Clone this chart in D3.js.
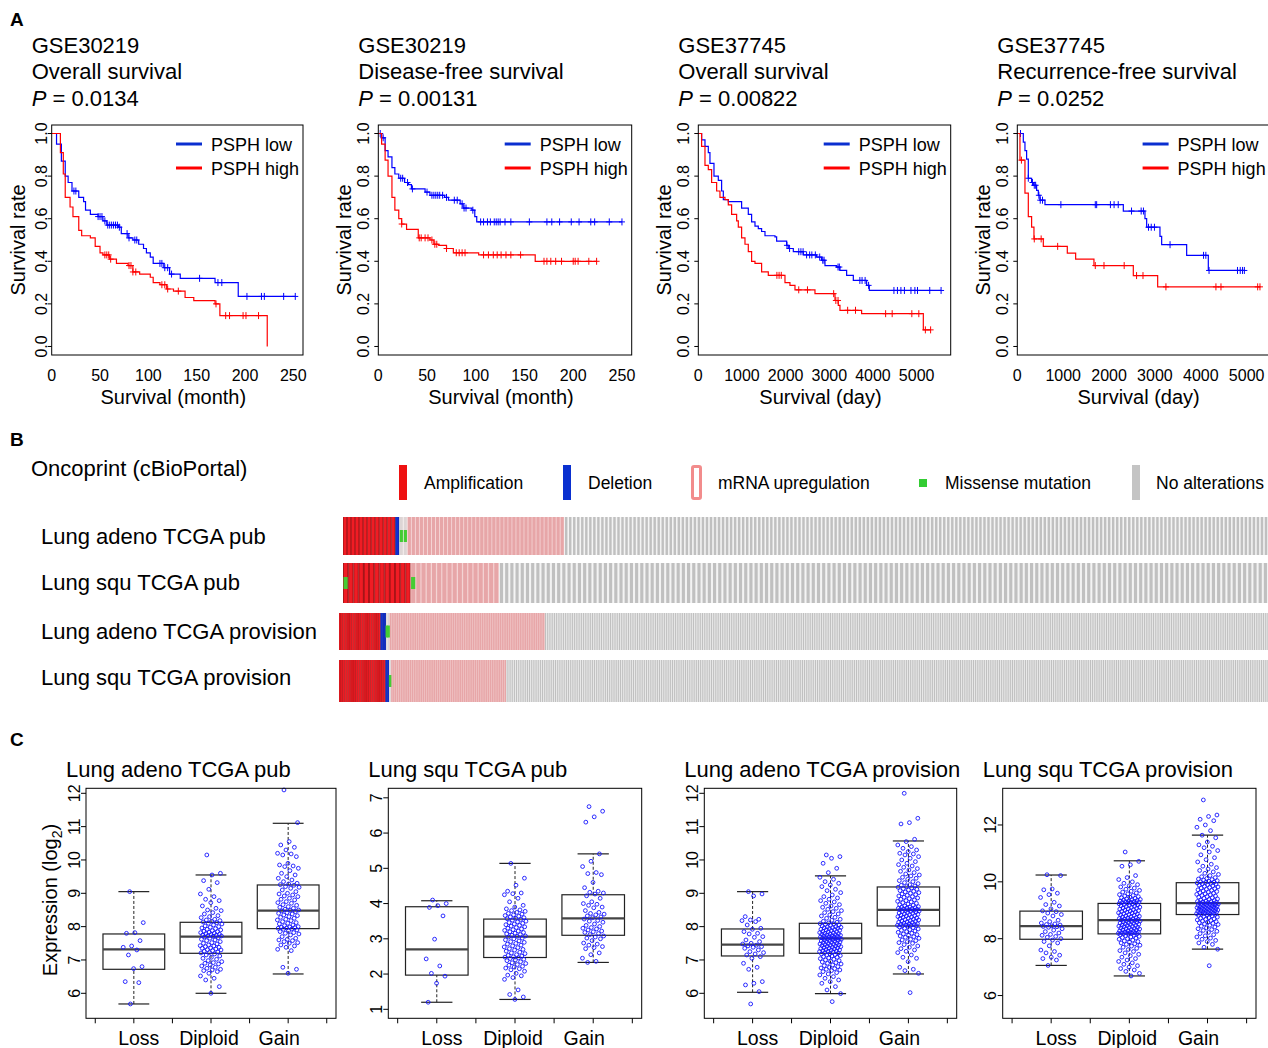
<!DOCTYPE html>
<html>
<head>
<meta charset="utf-8">
<script src="https://cdn.jsdelivr.net/npm/d3@7"></script>
<style>
body { margin: 0; background: #fff; }
svg { display: block; }
text { font-family: "Liberation Sans", Arial, Helvetica, sans-serif; fill: #000; }
</style>
</head>
<body>
<svg></svg>
<script>
// ---------- Panel A: Kaplan-Meier data ----------
const kmCohorts = ["GSE30219", "GSE30219", "GSE37745", "GSE37745"];
const kmEndpoints = ["Overall survival", "Disease-free survival", "Overall survival", "Recurrence-free survival"];
const kmPvalues = ["0.0134", "0.00131", "0.00822", "0.0252"];
const kmXTitles = ["Survival (month)", "Survival (month)", "Survival (day)", "Survival (day)"];
const kmLegend = ["PSPH low", "PSPH high"];

const a1LowTime = [5, 10, 14, 17, 21, 28, 33, 35, 40, 48, 53, 57, 69, 72, 79, 84, 90, 95, 98, 102, 105, 116, 122, 133, 169, 193];
const a1LowSurv = [0.95, 0.87, 0.80, 0.77, 0.73, 0.70, 0.68, 0.64, 0.62, 0.61, 0.59, 0.57, 0.56, 0.53, 0.51, 0.50, 0.48, 0.46, 0.44, 0.42, 0.39, 0.37, 0.34, 0.32, 0.30, 0.235];
const a1LowCens = [23, 25, 48, 50, 52, 55, 58, 60, 62, 64, 66, 68, 70, 78, 80, 86, 88, 112, 114, 117, 120, 124, 153, 172, 176, 202, 217, 220, 240, 252];
const a1HighTime = [9, 12, 14, 19, 22, 28, 31, 40, 45, 50, 53, 60, 67, 79, 84, 91, 102, 105, 112, 119, 126, 138, 147, 169, 174, 223];
const a1HighSurv = [0.91, 0.81, 0.70, 0.655, 0.61, 0.545, 0.52, 0.51, 0.47, 0.44, 0.43, 0.41, 0.39, 0.38, 0.35, 0.34, 0.325, 0.30, 0.29, 0.27, 0.26, 0.23, 0.215, 0.20, 0.145, 0];
const a1HighCens = [55, 57, 59, 61, 80, 82, 84, 87, 114, 117, 120, 131, 170, 180, 184, 198, 201, 214];

const a2LowTime = [3.4, 7, 10, 14, 17, 21, 27, 31, 34, 48, 53, 68, 72, 84, 87, 96, 99, 101];
const a2LowSurv = [0.98, 0.92, 0.89, 0.84, 0.81, 0.79, 0.77, 0.76, 0.74, 0.725, 0.71, 0.70, 0.687, 0.67, 0.65, 0.64, 0.61, 0.585];
const a2LowCens = [2, 5, 23, 25, 30, 35, 50, 55, 57, 59, 61, 63, 66, 70, 78, 81, 86, 88, 90, 97, 105, 108, 112, 115, 119, 121, 123, 125, 130, 136, 155, 173, 178, 186, 198, 206, 218, 222, 237, 250];
const a2HighTime = [3.4, 7, 10, 14, 17, 21, 24, 29, 41, 53, 57, 62, 70, 77, 103, 161];
const a2HighSurv = [0.95, 0.875, 0.80, 0.70, 0.64, 0.60, 0.575, 0.55, 0.51, 0.50, 0.48, 0.475, 0.46, 0.44, 0.43, 0.40];
const a2HighCens = [24, 42, 44, 48, 51, 55, 58, 60, 70, 80, 83, 86, 89, 108, 113, 118, 122, 126, 131, 136, 146, 170, 173, 177, 182, 188, 200, 202, 205, 216, 224];

const a3LowTime = [76, 153, 229, 267, 359, 458, 534, 573, 687, 992, 1145, 1221, 1298, 1374, 1450, 1527, 1756, 1794, 2023, 2061, 2176, 2405, 2710, 2824, 2901, 3168, 3244, 3397, 3550, 3855, 3916];
const a3LowSurv = [0.97, 0.94, 0.91, 0.86, 0.80, 0.78, 0.73, 0.69, 0.68, 0.65, 0.62, 0.585, 0.565, 0.553, 0.54, 0.52, 0.515, 0.495, 0.475, 0.46, 0.445, 0.43, 0.42, 0.405, 0.38, 0.373, 0.357, 0.334, 0.31, 0.287, 0.263];
const a3LowCens = [2030, 2090, 2300, 2350, 2400, 2480, 2550, 2600, 2680, 2780, 2850, 2880, 3200, 3230, 3700, 3750, 3820, 3900, 4480, 4560, 4640, 4720, 4870, 4960, 5020, 5300, 5560];
const a3HighTime = [76, 153, 229, 305, 420, 496, 611, 687, 763, 878, 916, 992, 1069, 1145, 1221, 1298, 1450, 1603, 1985, 2099, 2214, 2672, 3130, 3206, 3244, 3740, 5153];
const a3HighSurv = [0.94, 0.85, 0.83, 0.77, 0.73, 0.70, 0.69, 0.665, 0.62, 0.59, 0.56, 0.51, 0.48, 0.445, 0.40, 0.39, 0.35, 0.334, 0.30, 0.287, 0.266, 0.248, 0.216, 0.193, 0.17, 0.154, 0.078];
const a3HighCens = [1800, 1850, 1900, 2300, 2500, 3100, 3150, 3200, 3420, 3600, 4290, 4440, 4890, 5050, 5200, 5320];

const a4LowTime = [131, 167, 203, 240, 312, 349, 421, 458, 494, 603, 2311, 2783, 2820, 3110, 3147, 3692, 4164];
const a4LowSurv = [0.96, 0.92, 0.88, 0.79, 0.77, 0.757, 0.733, 0.71, 0.687, 0.666, 0.636, 0.60, 0.56, 0.517, 0.478, 0.428, 0.357];
const a4LowCens = [70, 240, 330, 370, 400, 470, 500, 550, 950, 1700, 1730, 2030, 2110, 2200, 2490, 2700, 2750, 2860, 2920, 2990, 3330, 4060, 4110, 4180, 4800, 4860, 4910, 4950];
const a4HighTime = [58, 167, 240, 312, 363, 567, 1090, 1272, 1671, 2529, 3060];
const a4HighSurv = [0.875, 0.72, 0.61, 0.56, 0.505, 0.47, 0.438, 0.41, 0.38, 0.333, 0.28];
const a4HighCens = [90, 370, 520, 880, 1700, 1890, 2330, 2600, 2740, 3240, 4330, 4440, 5240, 5290];

// ---------- Panel B: oncoprint sample counts ----------
const oncoStudies = ["Lung adeno TCGA pub", "Lung squ TCGA pub", "Lung adeno TCGA provision", "Lung squ TCGA provision"];
const oncoAmp = [13, 13, 23, 25];
const oncoDel = [1, 0, 3, 2];
const oncoMiss = [2, 0, 2, 1];
const oncoMrna = [39, 17, 86, 62];
const oncoNone = [175, 148, 401, 410];
const oncoMissOverlay = [[], [0, 13], [], []];
const oncoLegend = ["Amplification", "Deletion", "mRNA upregulation", "Missense mutation", "No alterations"];

// ---------- Panel C: expression by copy number ----------
const cnGroups = ["Loss", "Diploid", "Gain"];
const boxTitles = ["Lung adeno TCGA pub", "Lung squ TCGA pub", "Lung adeno TCGA provision", "Lung squ TCGA provision"];
// [lower whisker, Q1, median, Q3, upper whisker]
const c1Stats = [[5.68, 6.72, 7.32, 7.78, 9.05], [6.0, 7.2, 7.7, 8.13, 9.55], [6.58, 7.94, 8.48, 9.25, 11.1]];
const c2Stats = [[1.2, 1.97, 2.7, 3.91, 4.08], [1.28, 2.47, 3.06, 3.56, 5.14], [2.33, 3.1, 3.58, 4.25, 5.41]];
const c3Stats = [[6.03, 7.12, 7.46, 7.93, 9.05], [5.99, 7.2, 7.65, 8.1, 9.52], [6.58, 8.02, 8.5, 9.19, 10.57]];
const c4Stats = [[7.06, 7.98, 8.44, 8.97, 10.24], [6.69, 8.17, 8.65, 9.24, 10.74], [7.63, 8.85, 9.25, 9.97, 11.64]];

const c1Loss = [9.05, 8.12, 7.82, 7.8, 7.58, 7.42, 7.38, 7.3, 7.15, 6.8, 6.74, 6.35, 6.32, 5.68];
const c1Diploid = [10.15, 9.6, 9.55, 9.38, 9.32, 9.12, 8.98, 8.9, 8.82, 8.78, 8.72, 8.62, 8.55, 8.5, 8.48, 8.42, 8.38, 8.33, 8.3, 8.27, 8.22, 8.2, 8.18, 8.16, 8.14,
  8.12, 8.1, 8.08, 8.05, 8.02, 8.0, 7.98, 7.96, 7.94, 7.92, 7.9, 7.88, 7.86, 7.85, 7.83, 7.82, 7.8, 7.79, 7.77, 7.76, 7.75, 7.74, 7.73, 7.72, 7.71,
  7.69, 7.67, 7.65, 7.62, 7.6, 7.58, 7.55, 7.52, 7.5, 7.48, 7.45, 7.43, 7.42, 7.4, 7.38, 7.36, 7.35, 7.33, 7.31, 7.3, 7.28, 7.26, 7.24, 7.22, 7.21,
  7.18, 7.15, 7.12, 7.08, 7.05, 7.02, 6.98, 6.95, 6.92, 6.9, 6.88, 6.85, 6.82, 6.78, 6.75, 6.72, 6.7, 6.68, 6.65, 6.6, 6.52, 6.45, 6.4, 6.2, 6.0];
const c1Gain = [12.1, 11.12, 10.55, 10.45, 10.38, 10.3, 10.2, 10.18, 10.15, 10.1, 9.9, 9.85, 9.82, 9.8, 9.75, 9.68, 9.6, 9.55, 9.5, 9.45, 9.4, 9.35, 9.3, 9.28, 9.26,
  9.24, 9.2, 9.18, 9.15, 9.1, 9.05, 9.0, 8.98, 8.95, 8.92, 8.9, 8.85, 8.82, 8.8, 8.75, 8.72, 8.7, 8.66, 8.64, 8.6, 8.58, 8.55, 8.52, 8.5, 8.49,
  8.47, 8.45, 8.42, 8.4, 8.38, 8.35, 8.33, 8.3, 8.28, 8.25, 8.22, 8.2, 8.18, 8.15, 8.12, 8.1, 8.08, 8.05, 8.03, 8.0, 7.99, 7.98, 7.97, 7.96, 7.95,
  7.93, 7.92, 7.9, 7.88, 7.85, 7.82, 7.8, 7.78, 7.75, 7.7, 7.65, 7.62, 7.6, 7.58, 7.55, 7.52, 7.5, 7.45, 7.42, 7.38, 7.32, 7.28, 6.78, 6.72, 6.6];

const c2Loss = [4.1, 4.0, 3.94, 3.89, 3.65, 2.99, 2.43, 2.23, 2.02, 1.94, 1.74, 1.2];
const c2Diploid = [5.14, 4.72, 4.52, 4.35, 4.3, 4.28, 4.25, 4.15, 4.05, 3.95, 3.9, 3.85, 3.82, 3.8, 3.78, 3.75, 3.72, 3.7, 3.68, 3.66, 3.64, 3.62, 3.6, 3.58, 3.57,
  3.55, 3.53, 3.5, 3.48, 3.46, 3.44, 3.42, 3.4, 3.38, 3.36, 3.34, 3.32, 3.3, 3.28, 3.26, 3.24, 3.22, 3.2, 3.18, 3.16, 3.14, 3.12, 3.1, 3.08, 3.07,
  3.05, 3.02, 3.0, 2.97, 2.94, 2.92, 2.9, 2.87, 2.85, 2.82, 2.8, 2.77, 2.75, 2.72, 2.7, 2.68, 2.65, 2.62, 2.6, 2.58, 2.55, 2.53, 2.51, 2.49, 2.48,
  2.46, 2.44, 2.42, 2.4, 2.38, 2.35, 2.32, 2.3, 2.27, 2.25, 2.22, 2.2, 2.17, 2.15, 2.12, 2.08, 2.02, 1.97, 1.95, 1.9, 1.85, 1.55, 1.42, 1.35, 1.28];
const c2Gain = [6.75, 6.62, 6.46, 6.31, 5.41, 5.2, 5.05, 4.88, 4.85, 4.82, 4.6, 4.45, 4.35, 4.32, 4.3, 4.27,
  4.22, 4.15, 4.05, 4.0, 3.98, 3.95, 3.9, 3.88, 3.8, 3.75, 3.72, 3.7, 3.68, 3.65, 3.62, 3.6,
  3.56, 3.52, 3.5, 3.47, 3.42, 3.38, 3.35, 3.32, 3.3, 3.28, 3.25, 3.22, 3.2, 3.18, 3.15, 3.12,
  3.08, 3.05, 3.02, 3.0, 2.95, 2.88, 2.85, 2.82, 2.78, 2.75, 2.72, 2.6, 2.55, 2.45, 2.36, 2.33];

const c3Loss = [9.05, 8.98, 8.92, 8.3, 8.22, 8.2, 8.18, 8.15, 8.05, 7.95, 7.92, 7.85, 7.8, 7.78, 7.7, 7.68, 7.6, 7.55, 7.5, 7.48,
  7.44, 7.42, 7.4, 7.38, 7.35, 7.3, 7.25, 7.22, 7.18, 7.15, 7.1, 7.05, 6.9, 6.78, 6.72, 6.35, 6.3, 6.25, 6.05, 5.68];
const c3Diploid = [10.15, 10.1, 10.05, 9.9, 9.75, 9.62, 9.48, 9.42, 9.35, 9.3, 9.25, 9.2, 9.12, 9.08, 9.02, 8.95, 8.9, 8.86, 8.82, 8.78, 8.74, 8.7, 8.66, 8.62, 8.58, 8.55, 8.52, 8.48, 8.45, 8.42, 8.38, 8.35, 8.32, 8.28, 8.25, 8.22, 8.19, 8.16, 8.13, 8.11,
  8.09, 8.08, 8.07, 8.05, 8.04, 8.02, 8.0, 7.99, 7.98, 7.97, 7.96, 7.95, 7.94, 7.92, 7.91, 7.9, 7.89, 7.88, 7.86, 7.85, 7.84, 7.82, 7.81, 7.8, 7.79, 7.78, 7.77, 7.76, 7.75, 7.74, 7.73, 7.72, 7.71, 7.7, 7.69, 7.68, 7.67, 7.67, 7.66, 7.66,
  7.64, 7.63, 7.62, 7.61, 7.6, 7.59, 7.58, 7.57, 7.56, 7.55, 7.54, 7.53, 7.52, 7.5, 7.49, 7.48, 7.47, 7.46, 7.45, 7.44, 7.43, 7.42, 7.41, 7.4, 7.38, 7.37, 7.36, 7.35, 7.34, 7.33, 7.31, 7.3, 7.29, 7.28, 7.27, 7.26, 7.25, 7.24, 7.22, 7.21,
  7.19, 7.18, 7.16, 7.15, 7.13, 7.12, 7.1, 7.08, 7.06, 7.04, 7.02, 7.0, 6.98, 6.96, 6.94, 6.92, 6.9, 6.88, 6.85, 6.83, 6.8, 6.78, 6.76, 6.74, 6.72, 6.7, 6.68, 6.65, 6.62, 6.58, 6.55, 6.5, 6.45, 6.4, 6.35, 6.3, 6.2, 6.1, 5.99, 5.75];
const c3Gain = [12.0, 11.25, 11.12, 11.08, 10.62, 10.55, 10.45, 10.4, 10.35, 10.3, 10.25, 10.2, 10.18, 10.15, 10.1, 10.05, 10.0, 9.95, 9.9, 9.86, 9.82, 9.78, 9.74, 9.7, 9.66, 9.62, 9.58, 9.55, 9.52, 9.48, 9.45, 9.42, 9.38, 9.35, 9.32, 9.29, 9.26, 9.24, 9.22, 9.2,
  9.18, 9.16, 9.14, 9.12, 9.1, 9.08, 9.06, 9.04, 9.02, 9.0, 8.98, 8.96, 8.94, 8.92, 8.9, 8.88, 8.86, 8.84, 8.82, 8.8, 8.78, 8.76, 8.74, 8.72, 8.7, 8.68, 8.66, 8.64, 8.62, 8.6, 8.59, 8.58, 8.57, 8.56, 8.55, 8.54, 8.53, 8.52, 8.51, 8.51,
  8.49, 8.48, 8.47, 8.46, 8.45, 8.44, 8.42, 8.41, 8.4, 8.38, 8.37, 8.36, 8.34, 8.33, 8.32, 8.3, 8.29, 8.28, 8.26, 8.25, 8.24, 8.22, 8.21, 8.2, 8.18, 8.17, 8.16, 8.14, 8.13, 8.12, 8.1, 8.09, 8.08, 8.07, 8.06, 8.05, 8.04, 8.04, 8.03, 8.03,
  8.01, 7.99, 7.97, 7.95, 7.93, 7.91, 7.89, 7.87, 7.85, 7.83, 7.8, 7.78, 7.76, 7.74, 7.72, 7.7, 7.68, 7.65, 7.62, 7.6, 7.58, 7.55, 7.52, 7.5, 7.46, 7.42, 7.38, 7.34, 7.3, 7.26, 7.22, 7.15, 7.08, 7.05, 6.95, 6.78, 6.72, 6.68, 6.6, 6.02];

const c4Loss = [10.25, 10.22, 9.75, 9.72, 9.6, 9.55, 9.45, 9.28, 9.2, 9.15, 9.05, 8.98, 8.95, 8.9, 8.85, 8.8, 8.72, 8.65, 8.6, 8.55, 8.52, 8.5, 8.48, 8.45,
  8.43, 8.42, 8.4, 8.35, 8.3, 8.25, 8.2, 8.15, 8.12, 8.08, 8.05, 8.0, 7.95, 7.9, 7.85, 7.75, 7.6, 7.55, 7.5, 7.42, 7.35, 7.3, 7.25, 7.06];
const c4Diploid = [11.05, 10.72, 10.6, 10.55, 10.22, 10.15, 10.08, 10.0, 9.95, 9.9, 9.86, 9.82, 9.78, 9.74, 9.7, 9.67, 9.64, 9.61, 9.58, 9.55, 9.52, 9.5, 9.48, 9.46, 9.44, 9.42, 9.4, 9.38, 9.37, 9.36, 9.34, 9.33, 9.32, 9.31, 9.3, 9.29, 9.28, 9.27, 9.26, 9.25,
  9.23, 9.22, 9.2, 9.19, 9.17, 9.16, 9.14, 9.13, 9.11, 9.1, 9.08, 9.07, 9.05, 9.04, 9.02, 9.0, 8.99, 8.97, 8.96, 8.94, 8.93, 8.91, 8.9, 8.88, 8.87, 8.85, 8.84, 8.82, 8.8, 8.79, 8.77, 8.76, 8.74, 8.73, 8.71, 8.7, 8.69, 8.68, 8.67, 8.66,
  8.64, 8.63, 8.62, 8.6, 8.59, 8.58, 8.56, 8.55, 8.54, 8.52, 8.51, 8.5, 8.48, 8.47, 8.46, 8.44, 8.43, 8.42, 8.4, 8.39, 8.38, 8.36, 8.35, 8.34, 8.32, 8.31, 8.3, 8.28, 8.27, 8.26, 8.24, 8.23, 8.22, 8.21, 8.2, 8.2, 8.19, 8.19, 8.18, 8.18,
  8.16, 8.14, 8.12, 8.1, 8.08, 8.06, 8.04, 8.02, 8.0, 7.98, 7.95, 7.92, 7.9, 7.88, 7.85, 7.82, 7.8, 7.77, 7.74, 7.7, 7.66, 7.62, 7.58, 7.55, 7.5, 7.45, 7.4, 7.35, 7.3, 7.25, 7.2, 7.15, 7.1, 7.05, 7.0, 6.95, 6.9, 6.85, 6.78, 6.69];
const c4Gain = [12.88, 12.35, 12.3, 12.2, 12.15, 12.0, 11.92, 11.8, 11.64, 11.55, 11.4, 11.3, 11.25, 11.2, 11.1, 11.05, 10.95, 10.85, 10.78, 10.7, 10.62, 10.55, 10.5, 10.45, 10.4, 10.35, 10.3, 10.26, 10.22, 10.18, 10.15, 10.12, 10.1, 10.08, 10.06, 10.04, 10.02, 10.0, 9.99, 9.98,
  9.96, 9.95, 9.93, 9.92, 9.9, 9.88, 9.86, 9.84, 9.82, 9.8, 9.78, 9.76, 9.74, 9.72, 9.7, 9.68, 9.66, 9.64, 9.62, 9.6, 9.58, 9.56, 9.54, 9.52, 9.5, 9.48, 9.46, 9.44, 9.42, 9.4, 9.38, 9.36, 9.34, 9.32, 9.31, 9.3, 9.29, 9.28, 9.27, 9.26,
  9.24, 9.23, 9.22, 9.21, 9.2, 9.19, 9.18, 9.17, 9.16, 9.15, 9.14, 9.13, 9.12, 9.11, 9.1, 9.09, 9.08, 9.07, 9.06, 9.05, 9.04, 9.03, 9.02, 9.01, 9.0, 8.99, 8.98, 8.97, 8.96, 8.95, 8.94, 8.93, 8.92, 8.91, 8.9, 8.89, 8.88, 8.87, 8.86, 8.86,
  8.84, 8.82, 8.8, 8.78, 8.76, 8.74, 8.72, 8.7, 8.68, 8.66, 8.64, 8.62, 8.6, 8.58, 8.56, 8.54, 8.52, 8.5, 8.47, 8.44, 8.41, 8.38, 8.35, 8.32, 8.29, 8.26, 8.22, 8.18, 8.14, 8.1, 8.06, 8.02, 7.98, 7.94, 7.9, 7.85, 7.8, 7.7, 7.63, 7.05];

// ---------- drawing ----------
const width = 1268, height = 1048;
const svg = d3.select("svg").attr("width", width).attr("height", height);
const BLUE = "#0000ff", RED = "#ff0000";

function txt(g, x, y, s, size, opts = {}) {
  const t = g.append("text").attr("x", x).attr("y", y).attr("font-size", size).text(s);
  if (opts.anchor) t.attr("text-anchor", opts.anchor);
  if (opts.weight) t.attr("font-weight", opts.weight);
  return t;
}

// rotated (bottom-to-top) text centred on (cx, cy)
function vtxt(g, cx, cy, s, size) {
  return g.append("text")
    .attr("transform", `translate(${cx},${cy}) rotate(-90)`)
    .attr("text-anchor", "middle").attr("dy", "0.35em")
    .attr("font-size", size).text(s);
}

// panel letters
txt(svg, 10, 26, "A", 19, { weight: "bold" });
txt(svg, 10, 446, "B", 19, { weight: "bold" });
txt(svg, 10, 746, "C", 19, { weight: "bold" });

// ----- A -----
const kmBoxes = [
  { left: 51.7, right: 303, xMax: 260, ticks: [0, 50, 100, 150, 200, 250], lab: 10 },
  { left: 378.3, right: 631.7, xMax: 260, ticks: [0, 50, 100, 150, 200, 250], lab: 15 },
  { left: 698.3, right: 950.7, xMax: 5780, ticks: [0, 1000, 2000, 3000, 4000, 5000], lab: 15 },
  { left: 1017.3, right: 1269.6, xMax: 5500, ticks: [0, 1000, 2000, 3000, 4000, 5000], lab: 15 }
];
const kmCurves = [
  [[a1LowTime, a1LowSurv, a1LowCens], [a1HighTime, a1HighSurv, a1HighCens]],
  [[a2LowTime, a2LowSurv, a2LowCens], [a2HighTime, a2HighSurv, a2HighCens]],
  [[a3LowTime, a3LowSurv, a3LowCens], [a3HighTime, a3HighSurv, a3HighCens]],
  [[a4LowTime, a4LowSurv, a4LowCens], [a4HighTime, a4HighSurv, a4HighCens]]
];

kmBoxes.forEach((b, k) => {
  const g = svg.append("g");
  const top = 125, bottom = 355;
  const x = d3.scaleLinear().domain([0, b.xMax]).range([b.left, b.right]);
  const y = d3.scaleLinear().domain([-0.04, 1.04]).range([bottom, top]);

  // titles
  txt(g, b.left - 20, 53, kmCohorts[k], 22);
  txt(g, b.left - 20, 79, kmEndpoints[k], 22);
  const p = txt(g, b.left - 20, 106, "", 22);
  p.append("tspan").attr("font-style", "italic").text("P");
  p.append("tspan").text(" = " + kmPvalues[k]);

  // curves
  const line = d3.line().x(d => x(d[0])).y(d => y(d[1])).curve(d3.curveStepAfter);
  kmCurves[k].forEach((c, ci) => {
    const [tm, sv, cens] = c;
    const color = ci === 0 ? BLUE : RED;
    const pts = [[0, 1]].concat(tm.map((t, i) => [t, sv[i]]));
    const end = Math.max(d3.max(tm), d3.max(cens));
    pts.push([end, sv[sv.length - 1]]);
    g.append("path").datum(pts).attr("d", line)
      .attr("fill", "none").attr("stroke", color).attr("stroke-width", 1.2);
    const survAt = t => { let s = 1; tm.forEach((tt, i) => { if (tt <= t) s = sv[i]; }); return s; };
    g.selectAll(null).data(cens).enter().append("path")
      .attr("d", d => `M${x(d)},${y(survAt(d)) - 3.5}v7M${x(d) - 3},${y(survAt(d))}h6`)
      .attr("stroke", color).attr("stroke-width", 1).attr("fill", "none");
  });

  // frame
  g.append("rect").attr("x", b.left).attr("y", top)
    .attr("width", b.right - b.left).attr("height", bottom - top)
    .attr("fill", "none").attr("stroke", "#000").attr("stroke-width", 1);

  // y axis
  [0, 0.2, 0.4, 0.6, 0.8, 1.0].forEach(v => {
    g.append("line").attr("x1", b.left - 4).attr("x2", b.left)
      .attr("y1", y(v)).attr("y2", y(v)).attr("stroke", "#000");
    vtxt(g, b.left - b.lab, y(v), d3.format(".1f")(v), 16);
  });
  vtxt(g, b.left - 34, 240, "Survival rate", 20);

  // x axis
  b.ticks.forEach(v => txt(g, x(v), 381, v, 16, { anchor: "middle" }));
  txt(g, (b.left + Math.min(b.right, 1268)) / 2 - 4, 404, kmXTitles[k], 20, { anchor: "middle" });

  // legend
  const lx = b.right - 127;
  kmLegend.forEach((s, i) => {
    const ly = 144 + i * 24;
    g.append("line").attr("x1", lx).attr("x2", lx + 26).attr("y1", ly).attr("y2", ly)
      .attr("stroke", i === 0 ? "#0a2fd0" : RED).attr("stroke-width", 3);
    txt(g, lx + 35, ly + 6.5, s, 18);
  });
});

// ----- B -----
{
  const g = svg.append("g");
  txt(g, 31, 476, "Oncoprint (cBioPortal)", 22);

  // legend
  g.append("rect").attr("x", 399).attr("y", 465).attr("width", 8).attr("height", 35).attr("fill", "#ee1111");
  g.append("rect").attr("x", 563).attr("y", 465).attr("width", 8).attr("height", 35).attr("fill", "#0a30d0");
  g.append("rect").attr("x", 692.5).attr("y", 466.5).attr("width", 8).attr("height", 32).attr("rx", 1.5)
    .attr("fill", "#fff").attr("stroke", "#f28c8c").attr("stroke-width", 3);
  g.append("rect").attr("x", 919).attr("y", 479).attr("width", 8).attr("height", 8).attr("fill", "#33cc33");
  g.append("rect").attr("x", 1132).attr("y", 465).attr("width", 8).attr("height", 35).attr("fill", "#c4c4c4");
  [424, 588, 718, 945, 1156].forEach((lx, i) => txt(g, lx, 489, oncoLegend[i], 17.5));

  const rowTop = [517, 563, 613, 660], rowBot = [555, 603, 650, 702];
  const rowLeft = [343, 343, 339, 339], labY = [544, 590, 639, 685];
  // [bar colour, separator colour, separator fraction]
  const pal = {
    amp: ["#f01c24", "#a51518", 0.35],
    del: ["#1030d0", "#0a1f90", 0.3],
    miss: ["#ddd5d5", "#f0e8e8", 0.3],
    mrna: ["#e7a6a8", "#f3cdce", 0.25],
    none: ["#c0c0c0", "#f2f2f2", 0.4]
  };
  oncoStudies.forEach((name, r) => {
    txt(g, 41, labY[r], name, 22);
    const cats = [].concat(
      d3.range(oncoAmp[r]).map(() => "amp"),
      d3.range(oncoDel[r]).map(() => "del"),
      d3.range(oncoMiss[r]).map(() => "miss"),
      d3.range(oncoMrna[r]).map(() => "mrna"),
      d3.range(oncoNone[r]).map(() => "none"));
    const x = d3.scaleBand().domain(d3.range(cats.length)).range([rowLeft[r], width]);
    const w = x.bandwidth();
    const h = rowBot[r] - rowTop[r];
    g.selectAll(null).data(cats).enter().append("rect")
      .attr("x", (d, i) => x(i)).attr("y", rowTop[r]).attr("width", w + 0.2).attr("height", h)
      .attr("fill", d => pal[d][1]);
    g.selectAll(null).data(cats).enter().append("rect")
      .attr("x", (d, i) => x(i) + w * pal[d][2] / 2).attr("y", rowTop[r])
      .attr("width", d => w * (1 - pal[d][2])).attr("height", h)
      .attr("fill", d => pal[d][0]);
    const missIdx = cats.map((d, i) => d === "miss" ? i : -1).filter(i => i >= 0).concat(oncoMissOverlay[r]);
    const mw = Math.max(w * 0.8, 2.5);
    g.selectAll(null).data(missIdx).enter().append("rect")
      .attr("x", i => x(i) + w / 2 - mw / 2).attr("y", rowTop[r] + h / 2 - 6)
      .attr("width", mw).attr("height", 12).attr("fill", "#44cc33");
  });
}

// ----- C -----
const boxPanels = [
  { left: 86, right: 336, yDom: [5.25, 12.15], ticks: [6, 7, 8, 9, 10, 11, 12], stats: c1Stats, pts: [c1Loss, c1Diploid, c1Gain] },
  { left: 388.3, right: 641.7, yDom: [0.745, 7.27], ticks: [1, 2, 3, 4, 5, 6, 7], stats: c2Stats, pts: [c2Loss, c2Diploid, c2Gain] },
  { left: 704.3, right: 956.7, yDom: [5.25, 12.15], ticks: [6, 7, 8, 9, 10, 11, 12], stats: c3Stats, pts: [c3Loss, c3Diploid, c3Gain] },
  { left: 1002.7, right: 1256, yDom: [5.2, 13.29], ticks: [6, 8, 10, 12], stats: c4Stats, pts: [c4Loss, c4Diploid, c4Gain] }
];

boxPanels.forEach((b, k) => {
  const g = svg.append("g");
  const top = 788.3, bottom = 1018.3;
  const x = d3.scaleLinear().domain([0.38, 3.62]).range([b.left, b.right]);
  const y = d3.scaleLinear().domain(b.yDom).range([bottom, top]);
  const hw = 0.4 * (x(1) - x(0));

  txt(g, b.left - 20, 777, boxTitles[k], 22);

  b.stats.forEach((s, i) => {
    const cx = x(i + 1);
    g.append("line").attr("x1", cx).attr("x2", cx).attr("y1", y(s[0])).attr("y2", y(s[1]))
      .attr("stroke", "#222").attr("stroke-dasharray", "3,2");
    g.append("line").attr("x1", cx).attr("x2", cx).attr("y1", y(s[3])).attr("y2", y(s[4]))
      .attr("stroke", "#222").attr("stroke-dasharray", "3,2");
    [s[0], s[4]].forEach(v => g.append("line").attr("x1", cx - hw / 2).attr("x2", cx + hw / 2)
      .attr("y1", y(v)).attr("y2", y(v)).attr("stroke", "#222").attr("stroke-width", 1.2));
    g.append("rect").attr("x", cx - hw).attr("y", y(s[3])).attr("width", 2 * hw)
      .attr("height", y(s[1]) - y(s[3])).attr("fill", "#fff").attr("stroke", "#222").attr("stroke-width", 1.2);
    g.append("line").attr("x1", cx - hw).attr("x2", cx + hw).attr("y1", y(s[2])).attr("y2", y(s[2]))
      .attr("stroke", "#444").attr("stroke-width", 2.2);
  });

  // jittered points (deterministic spread)
  b.pts.forEach((arr, i) => {
    g.selectAll(null).data(arr).enter().append("circle")
      .attr("cx", (d, j) => x(i + 1) + (((j * 0.618034 + 0.31) % 1) - 0.5) * 22)
      .attr("cy", d => y(d)).attr("r", 1.9)
      .attr("fill", "none").attr("stroke", "#1414ff").attr("stroke-width", 0.9);
  });

  g.append("rect").attr("x", b.left).attr("y", top).attr("width", b.right - b.left)
    .attr("height", bottom - top).attr("fill", "none").attr("stroke", "#000");

  b.ticks.forEach(v => {
    g.append("line").attr("x1", b.left - 5).attr("x2", b.left).attr("y1", y(v)).attr("y2", y(v)).attr("stroke", "#000");
    vtxt(g, b.left - 12, y(v), v, 16);
  });
  [0.5, 1, 1.5, 2, 2.5, 3, 3.5].forEach(v => g.append("line").attr("x1", x(v)).attr("x2", x(v))
    .attr("y1", bottom).attr("y2", bottom + 5).attr("stroke", "#000"));
  const step = x(2) - x(1);
  cnGroups.forEach((s, i) => txt(g, x(2) + (i - 1) * 0.91 * step - 2, 1045, s, 19.5, { anchor: "middle" }));

  if (k === 0) {
    const t = g.append("text").attr("transform", "translate(50,900) rotate(-90)")
      .attr("text-anchor", "middle").attr("dy", "0.35em").attr("font-size", 20);
    t.append("tspan").text("Expression (log");
    t.append("tspan").attr("font-size", 14).attr("dy", 5).text("2");
    t.append("tspan").attr("dy", -5).text(")");
  }
});
</script>
</body>
</html>
